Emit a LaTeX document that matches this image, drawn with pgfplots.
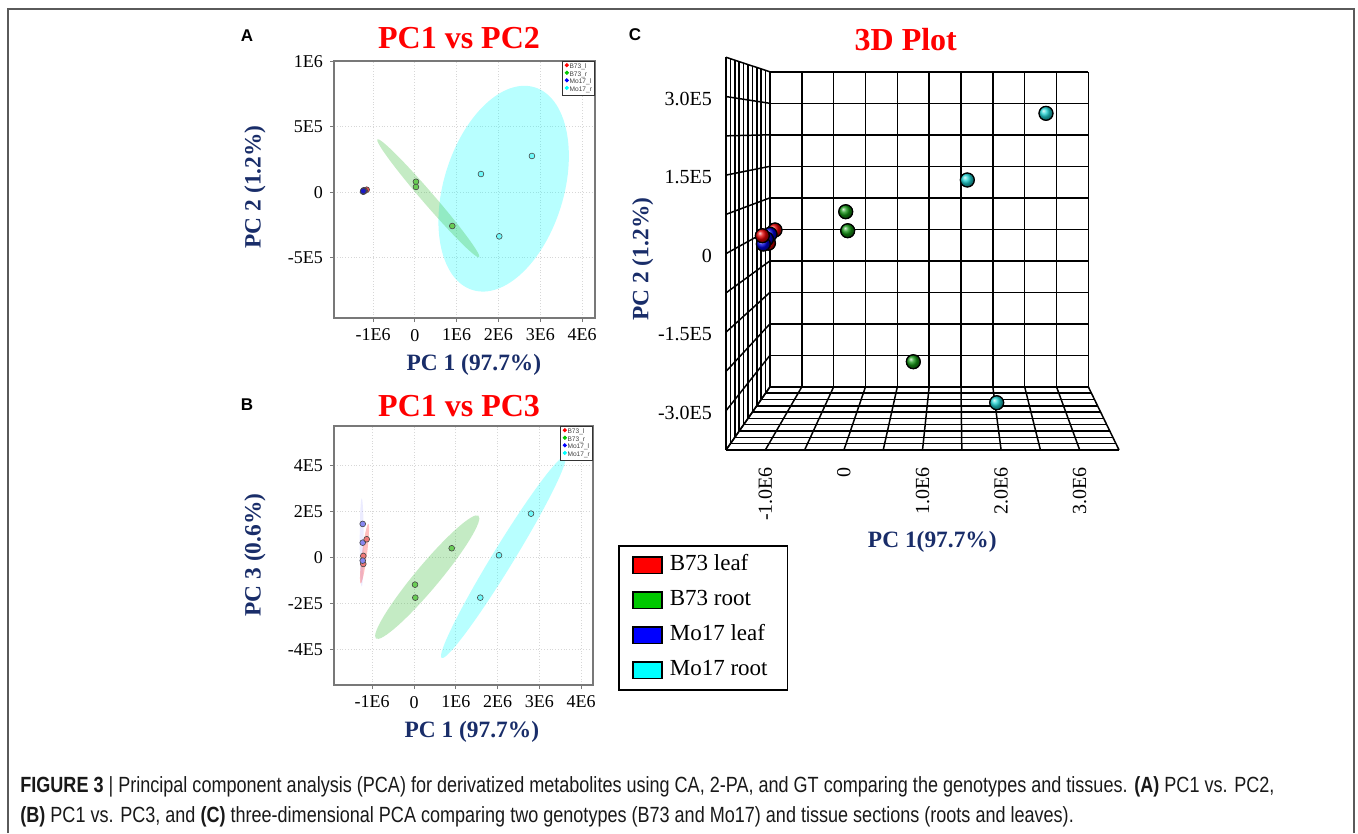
\documentclass[border=0pt]{standalone}
\usepackage{fontspec}
\setmainfont{Liberation Serif}
\newfontfamily\sansf{Liberation Sans}
\newfontfamily\capf[FakeStretch=0.82]{Liberation Sans}
\usepackage{pgfplots}
\pgfplotsset{compat=1.18}

\definecolor{navy}{RGB}{25,45,105}
\definecolor{axgray}{RGB}{120,120,120}
\definecolor{gridgray}{RGB}{215,215,215}
\definecolor{edge}{RGB}{70,70,70}
\definecolor{frame}{RGB}{90,90,90}
\definecolor{pureRed}{RGB}{255,0,0}
\definecolor{pureGreen}{RGB}{0,200,0}
\definecolor{pureBlue}{RGB}{0,0,255}
\definecolor{pureCyan}{RGB}{0,255,255}
\definecolor{aRed}{RGB}{235,80,80}
\definecolor{aGreen}{RGB}{105,205,85}
\definecolor{aBlue}{RGB}{25,25,200}
\definecolor{aCyan}{RGB}{110,250,250}
\definecolor{bRed}{RGB}{240,120,120}
\definecolor{bBlue}{RGB}{135,135,240}
\definecolor{eGreen}{RGB}{60,190,60}
\definecolor{cRed}{RGB}{225,0,0}
\definecolor{cGreen}{RGB}{20,150,20}
\definecolor{cBlue}{RGB}{0,0,220}
\definecolor{cCyan}{RGB}{30,210,210}

\tikzset{wall/.style={draw=black, line width=0.75pt}}

\pgfplotsset{
  pca/.style={
    scale only axis, scaled ticks=false,
    axis line style={draw=axgray, line width=0.6pt},
    tick align=outside, major tick length=2pt,
    tick style={draw=axgray, line width=0.5pt},
    xtick pos=bottom, ytick pos=left,
    grid=major, grid style={densely dotted, draw=gridgray, line width=0.4pt},
    tick label style={font=\fontsize{9}{10}\selectfont},
    xtick={-1000000,0,1000000,2000000,3000000,4000000},
    xticklabels={-1E6,0,1E6,2E6,3E6,4E6},
    label style={font=\bfseries\fontsize{11.7}{13}\selectfont, text=navy, anchor=center},
    title style={font=\bfseries\fontsize{16}{18}\selectfont, text=pureRed,
      anchor=center, yshift=-6pt},
    legend style={at={(rel axis cs:1,1)}, anchor=north east, draw=black!80,
      line width=0.35pt, fill=white, font=\sansf\fontsize{3.3}{3.6}\selectfont,
      inner xsep=1pt, inner ysep=0.8pt, row sep=0pt,
      nodes={inner sep=0.35pt, text height=2.4pt, text depth=0.7pt, text=black!75}},
    legend cell align=left,
    legend image code/.code={\fill[##1] (0.9pt,0.8pt) circle (0.85pt);},
  },
  pt/.style={only marks, mark=*, mark size=1.45pt,
    mark options={fill=#1, draw=edge, line width=0.3pt}, forget plot},
  sph/.style={only marks, mark=ball, mark size=3.5pt,
    mark options={ball color=#1}, forget plot},
  sphl/.style={only marks, mark=o, mark size=3.5pt,
    mark options={draw=black, line width=0.6pt}, forget plot},
}

\begin{document}
\begin{tikzpicture}[x=0.5pt, y=0.5pt]
\path (0,0) rectangle (1358,-833);
\draw[frame, line width=1pt] (8,-833) -- (8,-9) -- (1354,-9) -- (1354,-833);
\coordinate (posA) at (334,-318);
\coordinate (posB) at (334,-685);
\coordinate (posC) at (726,-450);

% ---------------- A: PC1 vs PC2
\begin{axis}[pca, at={(posA)}, anchor=south west,
  width=130.5pt, height=128.5pt,
  xmin=-1935000, xmax=4310000, ymin=-963000, ymax=1004000,
  ytick={-500000,0,500000,1000000}, yticklabels={-5E5,0,5E5,1E6},
  title={PC1 vs PC2}, title style={at={(rel axis cs:0.479,1.09)}},
  xlabel={PC 1 (97.7\%)}, xlabel style={at={(rel axis cs:0.536,-0.183)}},
  ylabel={PC 2 (1.2\%)}, ylabel style={at={(rel axis cs:-0.3027,0.51)}},
]
\addlegendimage{pureRed}\addlegendentry{B73\_l}
\addlegendimage{pureGreen}\addlegendentry{B73\_r}
\addlegendimage{pureBlue}\addlegendentry{Mo17\_l}
\addlegendimage{pureCyan}\addlegendentry{Mo17\_r}
\fill[pureCyan, fill opacity=0.28, rotate around={73:(axis cs:2124000,26800)}]
  (axis cs:2124000,26800) ellipse [x radius=53pt, y radius=30pt];
\fill[eGreen, fill opacity=0.3, rotate around={-49.2:(axis cs:321000,-46700)}]
  (axis cs:321000,-46700) ellipse [x radius=39pt, y radius=3pt];
\addplot[pt=aRed] coordinates {(-1153000,19000) (-1200000,12000) (-1220000,5000)};
\addplot[pt=aBlue] coordinates {(-1228000,14000) (-1240000,4000) (-1234000,9000)};
\addplot[pt=aGreen] coordinates {(26000,80000) (26000,40000) (895000,-259000)};
\addplot[pt=aCyan] coordinates {(1581000,139000) (2801000,277000) (2019000,-338000)};
\end{axis}

% ---------------- B: PC1 vs PC3
\begin{axis}[pca, at={(posB)}, anchor=south west,
  width=129.5pt, height=129.5pt,
  xmin=-1914000, xmax=4282000, ymin=-554000, ymax=570000,
  ytick={-400000,-200000,0,200000,400000}, yticklabels={-4E5,-2E5,0,2E5,4E5},
  title={PC1 vs PC3}, title style={at={(rel axis cs:0.483,1.078)}},
  xlabel={PC 1 (97.7\%)}, xlabel style={at={(rel axis cs:0.532,-0.180)}},
  ylabel={PC 3 (0.6\%)}, ylabel style={at={(rel axis cs:-0.305,0.502)}},
]
\addlegendimage{pureRed}\addlegendentry{B73\_l}
\addlegendimage{pureGreen}\addlegendentry{B73\_r}
\addlegendimage{pureBlue}\addlegendentry{Mo17\_l}
\addlegendimage{pureCyan}\addlegendentry{Mo17\_r}
\fill[pureCyan, fill opacity=0.28, rotate around={58.5:(axis cs:2136000,0)}]
  (axis cs:2136000,0) ellipse [x radius=59pt, y radius=5.3pt];
\fill[eGreen, fill opacity=0.3, rotate around={50.1:(axis cs:316000,-85900)}]
  (axis cs:316000,-85900) ellipse [x radius=40pt, y radius=6pt];
\fill[pureBlue, fill opacity=0.08, rotate around={90:(axis cs:-1251000,64700)}]
  (axis cs:-1251000,64700) ellipse [x radius=22pt, y radius=1pt];
\fill[pureRed, fill opacity=0.25, rotate around={82.7:(axis cs:-1184000,16000)}]
  (axis cs:-1184000,16000) ellipse [x radius=15pt, y radius=1.25pt];
\addplot[pt=bBlue] coordinates {(-1227000,145000) (-1227000,63800)};
\addplot[pt=bRed] coordinates {(-1132000,78600) (-1213000,6100) (-1213000,-28600)};
\addplot[pt=bBlue] coordinates {(-1227000,-14300)};
\addplot[pt=aGreen] coordinates {(902000,39500) (24000,-118500) (31000,-174900)};
\addplot[pt=aCyan] coordinates {(2799000,189700) (2033000,9100) (1586000,-174900)};
\end{axis}

% ---------------- C: 3D plot
\begin{axis}[at={(posC)}, anchor=south west, scale only axis,
  width=196.5pt, height=196.35pt,
  xmin=-1500000, xmax=3500000, ymin=-375000, ymax=375000,
  clip=false, scaled ticks=false,
  axis line style={draw=none}, major tick length=0pt,
  xtick={-1000000,0,1000000,2000000,3000000},
  xticklabels={-1.0E6,0,1.0E6,2.0E6,3.0E6},
  ytick={-300000,-150000,0,150000,300000},
  yticklabels={-3.0E5,-1.5E5,0,1.5E5,3.0E5},
  tick label style={font=\fontsize{10}{12}\selectfont},
  xticklabel style={rotate=90, anchor=east},
  yticklabel style={yshift=-1pt},
  xticklabel shift=5pt, yticklabel shift=3.5pt,
  label style={font=\bfseries\fontsize{11.7}{13}\selectfont, text=navy, anchor=center},
  title style={font=\bfseries\fontsize{16}{18}\selectfont, text=pureRed, anchor=center,
    yshift=-6pt, at={(rel axis cs:0.4575,1.046)}},
  title={3D Plot},
  xlabel={PC 1(97.7\%)}, xlabel style={at={(rel axis cs:0.525,-0.2335)}},
  ylabel={PC 2 (1.2\%)}, ylabel style={at={(rel axis cs:-0.212,0.486)}},
  legend style={at={(rel axis cs:-0.274,-0.242)}, anchor=north west,
    draw=black, line width=0.9pt, fill=white, font=\fontsize{11.5}{13}\selectfont,
    inner xsep=6.5pt, inner ysep=3.5pt, row sep=5pt,
    nodes={inner xsep=3.5pt, inner ysep=1pt, text height=8pt, text depth=2.5pt}},
  legend cell align=left,
  legend image code/.code={\draw[#1, draw=black, line width=0.8pt]
    (0pt,-4.1pt) rectangle (14.5pt,4.1pt);},
]
\addlegendimage{fill=pureRed}\addlegendentry{B73 leaf}
\addlegendimage{fill=pureGreen}\addlegendentry{B73 root}
\addlegendimage{fill=pureBlue}\addlegendentry{Mo17 leaf}
\addlegendimage{fill=pureCyan}\addlegendentry{Mo17 root}
% back wall, left wall and floor grids
\pgfplotsinvokeforeach{0,...,10}{
  \draw[wall] (rel axis cs:{0.112+0.081*#1},0.161) -- (rel axis cs:{0.112+0.081*#1},0.963);
  \draw[wall] (rel axis cs:0.112,{0.161+0.0802*#1}) -- (rel axis cs:0.922,{0.161+0.0802*#1});
  \draw[wall] (rel axis cs:0.112,{0.161+0.0802*#1}) -- (rel axis cs:0,{0.1*#1});
  \draw[wall] (rel axis cs:{0.112*(1-#1/10)},{0.161*(1-#1/10)}) -- (rel axis cs:{0.112*(1-#1/10)},{0.963+0.037*#1/10});
  \draw[wall] (rel axis cs:{0.112+0.081*#1},0.161) -- (rel axis cs:{0.1*#1},0);
  \draw[wall] (rel axis cs:{0.112*(1-#1/10)},{0.161*(1-#1/10)}) -- (rel axis cs:{0.922+0.078*#1/10},{0.161*(1-#1/10)});
}
\addplot[sph=cCyan] coordinates {(2571000,268000) (1570000,140700) (1944000,-284700)};
\addplot[sphl] coordinates {(2571000,268000) (1570000,140700) (1944000,-284700)};
\addplot[sph=cGreen] coordinates {(23000,80100) (48000,43800) (883000,-206400)};
\addplot[sphl] coordinates {(23000,80100) (48000,43800) (883000,-206400)};
\addplot[sph=cRed] coordinates {(-877000,45200)};
\addplot[sphl] coordinates {(-877000,45200)};
\addplot[sph=cBlue] coordinates {(-940000,37000)};
\addplot[sphl] coordinates {(-940000,37000)};
\addplot[sph=cRed] coordinates {(-960000,20000)};
\addplot[sphl] coordinates {(-960000,20000)};
\addplot[sph=cBlue] coordinates {(-985000,28000)};
\addplot[sphl] coordinates {(-985000,28000)};
\addplot[sph=cBlue] coordinates {(-1025000,18400)};
\addplot[sphl] coordinates {(-1025000,18400)};
\addplot[sph=cRed] coordinates {(-1038000,34300)};
\addplot[sphl] coordinates {(-1038000,34300)};
\end{axis}

% panel letters
\node[font=\sansf\bfseries\fontsize{8.5}{10}\selectfont] at (247,-36) {A};
\node[font=\sansf\bfseries\fontsize{8.5}{10}\selectfont] at (247,-405) {B};
\node[font=\sansf\bfseries\fontsize{8.5}{10}\selectfont] at (635,-35) {C};

% caption
\node[anchor=base west, inner sep=0pt, font=\capf\fontsize{11}{13}\selectfont, text=black!90]
  at (20,-792) {\textbf{FIGURE 3} | Principal component analysis (PCA) for derivatized metabolites using CA, 2-PA, and GT comparing the genotypes and tissues. \textbf{(A)} PC1 vs. PC2,};
\node[anchor=base west, inner sep=0pt, font=\capf\fontsize{11}{13}\selectfont, text=black!90]
  at (20,-822) {\textbf{(B)} PC1 vs. PC3, and \textbf{(C)} three-dimensional PCA comparing two genotypes (B73 and Mo17) and tissue sections (roots and leaves).};
\end{tikzpicture}
\end{document}
